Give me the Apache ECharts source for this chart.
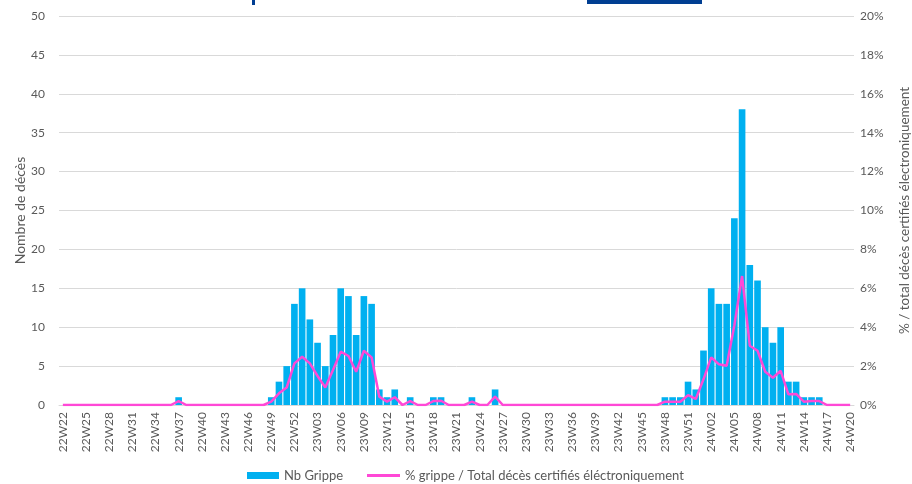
<!DOCTYPE html>
<html>
<head>
<meta charset="utf-8">
<script src="https://cdn.jsdelivr.net/npm/echarts@6/dist/echarts.min.js"></script>
<style>html,body{margin:0;padding:0;background:#fff}#c{width:912px;height:484px}</style>
</head>
<body>
<div id="c"></div>
<script>
// Week labels
const years = ['22', '23', '24'];
const weekRanges = [[22, 52], [1, 52], [1, 20]];
const categories = [];
years.forEach((y, k) => {
  for (let w = weekRanges[k][0]; w <= weekRanges[k][1]; w++) {
    categories.push(y + 'W' + (w < 10 ? '0' + w : '' + w));
  }
});

// Nb Grippe (deaths) per week
const nb2022 = [0,0,0,0,0, 0,0,0,0,0, 0,0,0,0,0, 1,0,0,0,0, 0,0,0,0,0, 0,0,1,3,5, 13];
const nb2023 = [15,11,8,5,9,15,14,9,14,13, 2,1,2,0,1,0,0,1,1,0, 0,0,1,0,0,2,0,0,0,0,
                0,0,0,0,0,0,0,0,0,0, 0,0,0,0,0,0,0,1,1,1, 3,2];
const nb2024 = [7,15,13,13,24,38,18,16,10,8, 10,3,3,1,1,1,0,0,0,0];

// % grippe / total deaths certified electronically
const pct2022 = [0,0,0,0,0, 0,0,0,0,0, 0,0,0,0,0, 0.2,0,0,0,0, 0,0,0,0,0, 0,0,0.17,0.6,0.9, 2.14];
const pct2023 = [2.48,2.14,1.49,0.9,1.8,2.74,2.52,1.71,2.79,2.45, 0.43,0.17,0.4,0,0.2,0,0,0.2,0.22,0,
                 0,0,0.17,0,0,0.43,0,0,0,0, 0,0,0,0,0,0,0,0,0,0, 0,0,0,0,0,0,0,0.17,0.17,0.17, 0.51,0.31];
const pct2024 = [1.32,2.45,2.09,2.02,4.1,6.63,3.05,2.79,1.71,1.4, 1.76,0.55,0.57,0.17,0.2,0.2,0,0,0,0];

const nbGrippe = nb2022.concat(nb2023, nb2024);
const pctGrippe = pct2022.concat(pct2023, pct2024);

const NAME_BAR = 'Nb Grippe';
const NAME_LINE = '% grippe / Total décès certifiés éléctroniquement';

const FONT = 'Lato';
const GREY = '#595959';
const BLUE = '#00B0F0';
const PINK = '#FF48D6';

const chart = echarts.init(document.getElementById('c'), null, {renderer: 'canvas'});
chart.setOption({
  animation: false,
  textStyle: {fontFamily: FONT},
  grid: {left: 59, right: 58, top: 16, bottom: 79, containLabel: false, outerBoundsMode: 'none'},
  legend: [
    {
      top: 464,
      left: 242,
      itemWidth: 32,
      itemHeight: 7,
      textStyle: {color: GREY, fontSize: 13, fontFamily: FONT},
      data: [{name: NAME_BAR, icon: 'rect'}]
    },
    {
      top: 464,
      left: 362,
      itemWidth: 33,
      itemHeight: 3,
      textStyle: {color: GREY, fontSize: 13, fontFamily: FONT},
      data: [{name: NAME_LINE, icon: 'rect'}]
    }
  ],
  graphic: [
    {type: 'rect', shape: {x: 587, y: 0, width: 115, height: 4}, style: {fill: '#003E92'}},
    {type: 'rect', shape: {x: 252, y: 0, width: 3, height: 5}, style: {fill: '#003E92'}}
  ],
  xAxis: {
    type: 'category',
    data: categories,
    axisLine: {show: true, lineStyle: {color: '#D9D9D9'}},
    axisTick: {show: false},
    axisLabel: {
      interval: 2,
      rotate: 90,
      color: GREY,
      fontSize: 12,
      fontFamily: FONT,
      margin: 7
    }
  },
  yAxis: [
    {
      type: 'value',
      min: 0, max: 50, interval: 5,
      name: 'Nombre de décès',
      nameLocation: 'middle',
      nameRotate: 90,
      nameGap: 32,
      nameMoveOverlap: false,
      nameTextStyle: {color: GREY, fontSize: 14, fontFamily: FONT},
      axisLine: {show: false},
      axisTick: {show: false},
      axisLabel: {color: GREY, fontSize: 12, fontFamily: FONT, margin: 14},
      splitLine: {lineStyle: {color: '#D9D9D9', width: 1}}
    },
    {
      type: 'value',
      min: 0, max: 20, interval: 2,
      position: 'right',
      name: '% / total décès certifiés électroniquement',
      nameLocation: 'middle',
      nameRotate: 90,
      nameGap: 44,
      nameTextStyle: {color: GREY, fontSize: 13.5, fontFamily: FONT},
      axisLine: {show: false},
      axisTick: {show: false},
      axisLabel: {color: GREY, fontSize: 12, fontFamily: FONT, margin: 6, formatter: '{value}%'},
      splitLine: {show: false}
    }
  ],
  series: [
    {
      name: NAME_BAR,
      type: 'bar',
      data: nbGrippe,
      yAxisIndex: 0,
      barCategoryGap: '14%',
      itemStyle: {color: BLUE}
    },
    {
      name: NAME_LINE,
      type: 'line',
      data: pctGrippe,
      yAxisIndex: 1,
      symbol: 'none',
      lineStyle: {color: PINK, width: 2.5},
      itemStyle: {color: PINK}
    }
  ]
});
</script>
</body>
</html>
